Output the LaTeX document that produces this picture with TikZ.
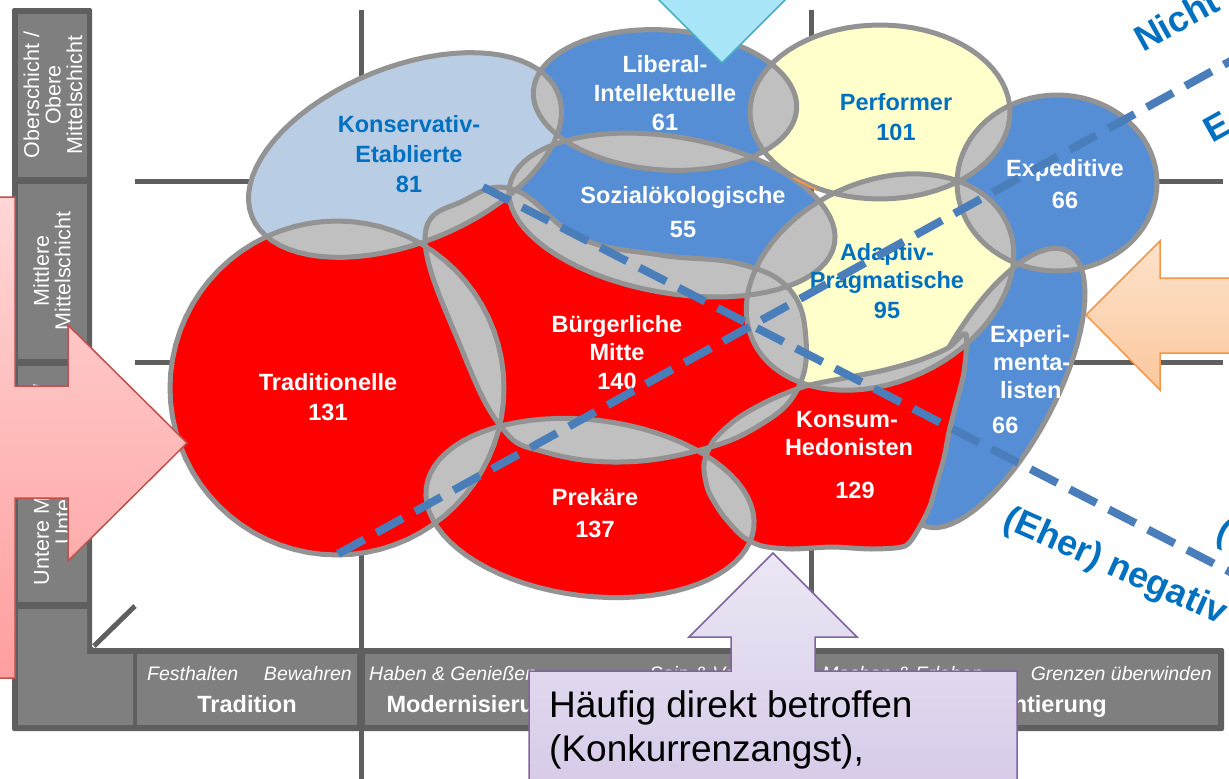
\documentclass[tikz,border=0pt]{standalone}
\usepackage{fontspec}
\setmainfont{Liberation Sans}
\definecolor{barDark}{HTML}{5F5F5F}
\definecolor{barCell}{HTML}{7F7F7F}
\definecolor{redM}{HTML}{FF0000}
\definecolor{blueM}{HTML}{558ED5}
\definecolor{lblueM}{HTML}{B9CDE5}
\definecolor{yelM}{HTML}{FFFFCC}
\definecolor{lensc}{HTML}{C0C0C0}
\definecolor{rimc}{HTML}{939393}
\definecolor{txtBlue}{HTML}{0070C0}
\definecolor{dashBlue}{HTML}{4A7EBB}
\definecolor{pinkB}{HTML}{C0504D}
\definecolor{pinkT}{HTML}{FFD6D6}
\definecolor{pinkBot}{HTML}{FF9E9E}
\definecolor{orB}{HTML}{F79646}
\definecolor{orT}{HTML}{FDE2CB}
\definecolor{orBot}{HTML}{FBC89E}
\definecolor{cyB}{HTML}{4BACC6}
\definecolor{cyF}{HTML}{A9E6F8}
\definecolor{lvB}{HTML}{8064A2}
\definecolor{lvT}{HTML}{ECE7F4}
\definecolor{lvBot}{HTML}{D6CAE8}
% rotated ellipse: centre x, centre y, semi-axis a, semi-axis b, tilt (deg, counter-clockwise)
\newcommand{\elp}[5]{plot[domain=0:355,samples=72,variable=\t]({#1+#3*cos(\t)*cos(#5)+#4*sin(\t)*sin(#5)},{#2-#3*cos(\t)*sin(#5)+#4*sin(\t)*cos(#5)}) -- cycle}
% milieu outlines
\def\pKE{\elp{405}{155}{165}{88}{22}}
\def\pLI{\elp{665}{100}{132}{70}{-4}}
\def\pPF{\elp{880}{112}{130}{87}{0}}
\def\pEX{\elp{1057}{183}{100}{88}{0}}
\def\pSO{\elp{672}{215}{165}{78}{-10}}
\def\pAP{\elp{880}{282}{140}{100}{25}}
\def\pXP{\elp{995}{388}{155}{60}{62}}
\def\pTR{\elp{337}{388}{167}{167}{0}}
\def\pPR{\elp{590}{508}{165}{88}{-7}}
\def\pBM{plot[smooth cycle,tension=0.7] coordinates {(425,238) (465,200) (515,190) (580,238) (660,255) (740,264) (790,290) (806,340) (797,390) (760,425) (700,450) (620,462) (545,452) (502,428) (462,350)}}
\def\pKH{plot[smooth cycle,tension=0.45] coordinates {(714,440) (738,418) (770,400) (806,386) (845,378) (885,370) (920,360) (948,348) (966,334) (964,372) (956,404) (949,432) (944,458) (937,482) (930,506) (919,528) (905,546) (872,549) (832,547) (792,549) (762,546) (742,536) (722,514) (708,490) (704,464)}}
\begin{document}
\begin{tikzpicture}[x=1pt,y=-1pt,
  gridl/.style={draw=barDark,line width=5pt},
  rim/.style={draw=rimc,line width=5pt,line join=round},
  lab/.style={font=\bfseries\fontsize{23.5}{28}\selectfont,inner sep=0pt,anchor=base},
  axlab/.style={font=\fontsize{21.5}{21.5}\selectfont,text=white,align=center,inner sep=0pt,rotate=90},
  itl/.style={font=\itshape\fontsize{19.5}{20}\selectfont,text=white,inner sep=0pt},
  bld/.style={font=\bfseries\fontsize{23.5}{24}\selectfont,text=white,inner sep=0pt,anchor=base},
  bigtxt/.style={font=\bfseries\fontsize{36}{36}\selectfont,text=txtBlue,inner sep=0pt,anchor=base west},
  dashln/.style={draw=dashBlue,line width=8pt,dash pattern=on 30pt off 14pt},
  boxtxt/.style={font=\fontsize{37}{43}\selectfont,text=black,inner sep=0pt,anchor=base west},
  pinkarr/.style={draw=pinkB,line width=1.5pt,top color=pinkT,bottom color=pinkBot},
  orarr/.style={draw=orB,line width=1.5pt,top color=orT,bottom color=orBot},
  cyarr/.style={draw=cyB,line width=1.5pt,fill=cyF},
  lvarr/.style={draw=lvB,line width=1.5pt,top color=lvT,bottom color=lvBot}]
\useasboundingbox (0,0) rectangle (1229,779);
\fill[white] (0,0) rectangle (1229,779);

% background grid
\draw[gridl] (361,10) -- (361,779);
\draw[gridl] (811,10) -- (811,779);
\draw[gridl] (135,181) -- (1223,181);
\draw[gridl] (135,362) -- (1223,362);

% axis frame
\fill[barDark,rounded corners=2pt] (12,8) -- (92,8) -- (92,648) -- (1224,648) -- (1224,731) -- (12,731) -- cycle;
\fill[barCell] (18,14) rectangle (87,177);
\fill[barCell] (18,184) rectangle (87,359);
\fill[barCell] (18,366) rectangle (87,602);
\fill[barCell] (18,609) -- (87,609) -- (87,654) -- (133,654) -- (133,725) -- (18,725) -- cycle;
\fill[barCell] (137,654) rectangle (357,725);
\fill[barCell] (365,654) rectangle (807,725);
\fill[barCell] (815,654) rectangle (1218,725);
\draw[gridl] (94,646) -- (135,606);

\node[axlab] (ax1) at (53,95) {Oberschicht /\\Obere\\Mittelschicht};
\node[axlab] (ax2) at (52,271) {Mittlere\\Mittelschicht};
\node[axlab] (ax3) at (52,485) {Untere Mittelschicht /\\Unterschicht};

\node[itl,anchor=base west] (f1) at (147,680) {Festhalten};
\node[itl,anchor=base east] (f2) at (352,680) {Bewahren};
\node[itl,anchor=base west] (f3) at (369,680) {Haben \& Genießen};
\node[itl,anchor=base east] (f4) at (803,680) {Sein \& Verändern};
\node[itl,anchor=base west] (f5) at (822,680) {Machen \& Erleben};
\node[itl,anchor=base east] (f6) at (1212,680) {Grenzen überwinden};
\node[bld] (g1) at (247,712) {Tradition};
\node[bld] (g2) at (585,712) {Modernisierung / Individualisierung};
\node[bld] (g3) at (1016,712) {Neuorientierung};

% milieu areas
\fill[lblueM] \pKE;
\fill[blueM] \pLI;
\fill[yelM] \pPF;
\fill[blueM] \pEX;
\fill[blueM] \pSO;
\fill[yelM] \pAP;
\fill[blueM] \pXP;
\fill[redM] \pTR;
\fill[redM] \pBM;
\fill[redM] \pPR;

% overlaps
\begin{scope}\clip \pKE; \fill[lensc] \pLI \pPF \pEX \pSO \pAP \pXP \pTR \pBM \pPR; \end{scope}
\begin{scope}\clip \pLI; \fill[lensc] \pPF \pEX \pSO \pAP \pXP \pTR \pBM \pPR; \end{scope}
\begin{scope}\clip \pPF; \fill[lensc] \pEX \pSO \pAP \pXP \pTR \pBM \pPR; \end{scope}
\begin{scope}\clip \pEX; \fill[lensc] \pSO \pAP \pXP \pTR \pBM \pPR; \end{scope}
\begin{scope}\clip \pSO; \fill[lensc] \pAP \pXP \pTR \pBM \pPR; \end{scope}
\begin{scope}\clip \pAP; \fill[lensc] \pXP \pTR \pBM \pPR; \end{scope}
\begin{scope}\clip \pXP; \fill[lensc] \pTR \pBM \pPR; \end{scope}
\begin{scope}\clip \pTR; \fill[lensc] \pBM \pPR; \end{scope}
\begin{scope}\clip \pBM; \fill[lensc] \pPR; \end{scope}

\draw[rim] \pKE \pLI \pPF \pEX \pSO \pAP \pXP \pTR \pBM \pPR;

% Konsum-Hedonisten on top
\fill[redM] \pKH;
\begin{scope}\clip \pKH; \fill[lensc] \pAP \pBM \pPR; \draw[rim] \pAP \pBM \pPR; \end{scope}
\draw[rim] \pKH;
\draw[draw=orB,line width=2pt] (793,178) -- (817,190);

% milieu labels
\node[lab,text=txtBlue] (ke1) at (409,132) {Konservativ-};
\node[lab,text=txtBlue] (ke2) at (409,162) {Etablierte};
\node[lab,text=txtBlue] (ke3) at (409,192) {81};
\node[lab,text=white] (li1) at (665,72) {Liberal-};
\node[lab,text=white] (li2) at (665,101) {Intellektuelle};
\node[lab,text=white] (li3) at (665,130) {61};
\node[lab,text=txtBlue] (pf1) at (896,110) {Performer};
\node[lab,text=txtBlue] (pf2) at (896,140) {101};
\node[lab,text=white] (ex1) at (1065,176) {Expeditive};
\node[lab,text=white] (ex2) at (1065,208) {66};
\node[lab,text=white] (so1) at (683,203) {Sozialökologische};
\node[lab,text=white] (so2) at (683,237) {55};
\node[lab,text=txtBlue] (ap1) at (887,260) {Adaptiv-};
\node[lab,text=txtBlue] (ap2) at (887,288) {Pragmatische};
\node[lab,text=txtBlue] (ap3) at (887,318) {95};
\node[lab,text=white,anchor=base west] (xp1) at (990,342) {Experi-};
\node[lab,text=white,anchor=base west] (xp2) at (993,370) {menta-};
\node[lab,text=white,anchor=base west] (xp3) at (1000,398) {listen};
\node[lab,text=white,anchor=base west] (xp4) at (992,433) {66};
\node[lab,text=white] (tr1) at (328,390) {Traditionelle};
\node[lab,text=white] (tr2) at (328,420) {131};
\node[lab,text=white] (bm1) at (617,332) {Bürgerliche};
\node[lab,text=white] (bm2) at (617,360) {Mitte};
\node[lab,text=white] (bm3) at (617,389) {140};
\node[lab,text=white] (pr1) at (595,505) {Prekäre};
\node[lab,text=white] (pr2) at (595,537) {137};
\node[lab,text=white] (kh1) at (847,427) {Konsum-};
\node[lab,text=white] (kh2) at (849,455) {Hedonisten};
\node[lab,text=white] (kh3) at (855,498) {129};

% dashed axes
\coordinate (d1s) at (338,554);
\coordinate (d1e) at (1236,58);
\coordinate (d2s) at (483,187);
\coordinate (d2e) at (1236,575);
\draw[dashln] (d1s) -- (d1e);
\draw[dashln] (d2s) -- (d2e);

\node[bigtxt,rotate=29] (nicht) at (1143,53) {Nicht};
\node[bigtxt,rotate=29] (eh) at (1212,144) {E};
\node[bigtxt,rotate=-24] (neg) at (1001,527) {(Eher) negativ};
\node[bigtxt,rotate=-24] (pos) at (1214,539) {(};

% callout arrows
\draw[cyarr] (649,-10) -- (722,63) -- (795,-10) -- cycle;
\draw[pinkarr] (-10,197) -- (15,197) -- (15,386) -- (68,386) -- (68,325) -- (187,443) -- (68,561) -- (68,498) -- (15,498) -- (15,678) -- (-10,678) -- cycle;
\draw[orarr] (1240,278) -- (1160,278) -- (1160,241) -- (1086,315) -- (1160,390) -- (1160,353) -- (1240,353) -- cycle;
\draw[lvarr] (529,790) -- (529,671) -- (731,671) -- (731,637) -- (689,637) -- (773,553) -- (857,637) -- (815,637) -- (815,671) -- (1017,671) -- (1017,790) -- cycle;
\node[boxtxt] (lv1) at (549,717) {Häufig direkt betroffen};
\node[boxtxt] (lv2) at (549,761) {(Konkurrenzangst),};
\end{tikzpicture}
\end{document}
